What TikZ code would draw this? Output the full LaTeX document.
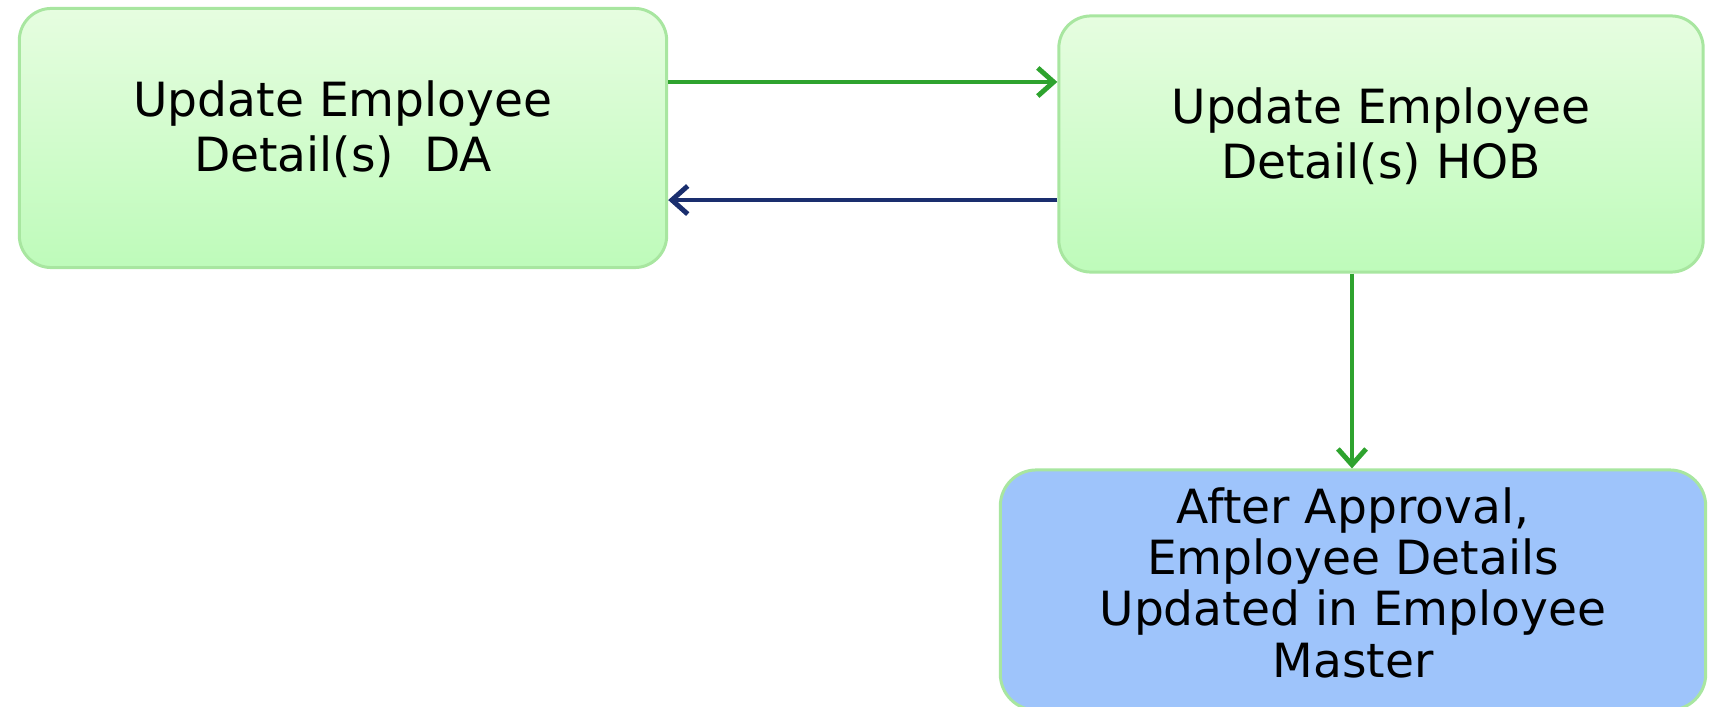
\documentclass[tikz,border=0pt]{standalone}
\usepackage{fontspec}
\setmainfont{DejaVu Sans}
\usetikzlibrary{arrows.meta}
\definecolor{boxtop}{HTML}{E6FDE0}
\definecolor{boxbottom}{HTML}{BEFBBA}
\definecolor{boxedge}{HTML}{A8E6A0}
\definecolor{masterfill}{HTML}{9EC4FB}
\definecolor{flowgreen}{HTML}{2EA32E}
\definecolor{flowblue}{HTML}{1A2E6E}
\begin{document}
\begin{tikzpicture}[
  x=0.01cm,
  y=-0.01cm,
  stagebox/.style={
    draw=boxedge,
    line width=0.85pt,
    rounded corners=0.32cm,
    top color=boxtop,
    bottom color=boxbottom,
    align=center,
    inner sep=0pt,
    font=\fontsize{13.4}{15.6}\selectfont
  },
  masterbox/.style={
    stagebox,
    rounded corners=0.36cm,
    fill=masterfill,
    top color=masterfill,
    bottom color=masterfill,
    font=\fontsize{13.4}{14.6}\selectfont
  },
  forward/.style={
    draw=flowgreen,
    line width=1.15pt,
    -{Straight Barb[length=4.5pt,width=8pt,line width=1.4pt]}
  },
  backward/.style={
    draw=flowblue,
    line width=1.15pt,
    -{Straight Barb[length=4.5pt,width=8pt,line width=1.4pt]}
  }
]

\useasboundingbox (0,0) rectangle (1709,706);

\node[stagebox, minimum width=6.47cm, minimum height=2.59cm, text depth=7pt] (da) at (343,138)
  {Update Employee\\Detail(s)\ \ DA};
\node[stagebox, minimum width=6.44cm, minimum height=2.56cm, text depth=6pt] (hob) at (1381,144)
  {Update Employee\\Detail(s) HOB};
\node[masterbox, minimum width=7.05cm, minimum height=2.40cm, text depth=4.4pt] (master) at (1353,590)
  {After Approval,\\Employee Details\\Updated in Employee\\Master};

% flow between the two approval stages
\draw[forward] ([yshift=0.56cm]da.east) -- ([yshift=0.56cm]da.east -| hob.west);
\draw[backward] ([yshift=-0.56cm]hob.west) -- ([yshift=-0.56cm]hob.west -| da.east);
\draw[forward] ([xshift=-0.29cm]hob.south) -- ([xshift=-0.29cm]hob.south |- master.north);

\end{tikzpicture}
\end{document}
